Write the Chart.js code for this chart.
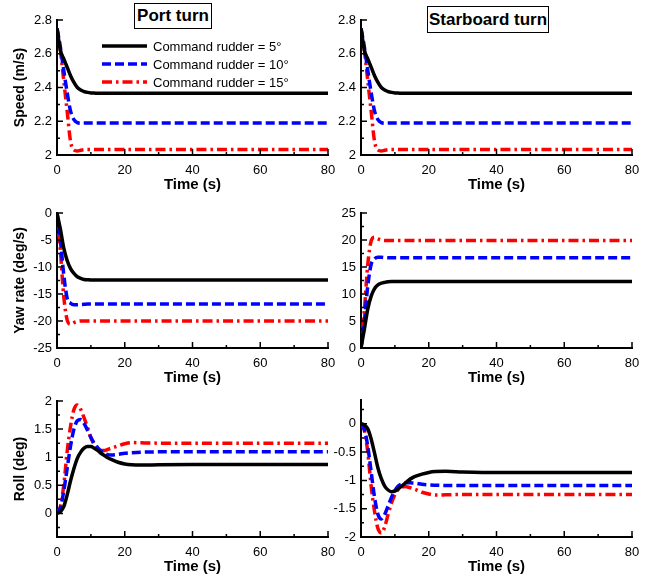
<!DOCTYPE html>
<html>
<head>
<meta charset="utf-8">
<script src="https://cdn.jsdelivr.net/npm/chart.js@4.4.0/dist/chart.umd.min.js"></script>
<style>
  html, body { margin: 0; padding: 0; background: #fff; }
  #wrap { position: relative; width: 653px; height: 578px; overflow: hidden; }
  #wrap canvas { position: absolute; }
  .ttl { position: absolute; border: 1px solid #000; background: #fff; z-index: 5;
         font: bold 17px "Liberation Sans", Arial, sans-serif; text-align: center; box-sizing: border-box; }
</style>
</head>
<body>
<div id="wrap">
  <canvas id="speedPort" width="345" height="195" style="left:0;top:0"></canvas>
  <canvas id="yawPort" width="345" height="190" style="left:0;top:195px"></canvas>
  <canvas id="rollPort" width="345" height="193" style="left:0;top:385px"></canvas>
  <canvas id="speedStbd" width="323" height="195" style="left:330px;top:0"></canvas>
  <canvas id="yawStbd" width="323" height="190" style="left:330px;top:195px"></canvas>
  <canvas id="rollStbd" width="323" height="193" style="left:330px;top:385px"></canvas>
  <div class="ttl" style="left:134px;top:3px;width:78px;height:26px;line-height:24px">Port turn</div>
  <div class="ttl" style="left:427px;top:6px;width:122px;height:27px;line-height:25px">Starboard turn</div>
</div>
<script>
// time samples (s)
var timeS = [0, 1, 2, 3, 4, 5, 6, 7, 8, 9, 10, 11, 12, 13, 14, 15, 16, 18, 20, 22, 25, 30, 40, 50, 60, 70, 80];

var seriesNames = ['Command rudder = 5°', 'Command rudder = 10°', 'Command rudder = 15°'];

// speed (m/s)
var speedPort5  = [2.75, 2.62, 2.57, 2.52, 2.47, 2.43, 2.40, 2.385, 2.376, 2.371, 2.368, 2.367, 2.366, 2.366, 2.366, 2.366, 2.366, 2.366, 2.366, 2.366, 2.366, 2.366, 2.366, 2.366, 2.366, 2.366, 2.366];
var speedPort10 = [2.75, 2.64, 2.50, 2.37, 2.26, 2.21, 2.192, 2.188, 2.189, 2.19, 2.19, 2.19, 2.19, 2.19, 2.19, 2.19, 2.19, 2.19, 2.19, 2.19, 2.19, 2.19, 2.19, 2.19, 2.19, 2.19, 2.19];
var speedPort15 = [2.75, 2.62, 2.44, 2.26, 2.08, 2.03, 2.024, 2.028, 2.031, 2.032, 2.032, 2.032, 2.032, 2.032, 2.032, 2.032, 2.032, 2.032, 2.032, 2.032, 2.032, 2.032, 2.032, 2.032, 2.032, 2.032, 2.032];
var speedStbd5  = [2.75, 2.62, 2.57, 2.52, 2.47, 2.43, 2.40, 2.385, 2.376, 2.371, 2.368, 2.367, 2.366, 2.366, 2.366, 2.366, 2.366, 2.366, 2.366, 2.366, 2.366, 2.366, 2.366, 2.366, 2.366, 2.366, 2.366];
var speedStbd10 = [2.75, 2.64, 2.50, 2.37, 2.26, 2.21, 2.192, 2.188, 2.189, 2.19, 2.19, 2.19, 2.19, 2.19, 2.19, 2.19, 2.19, 2.19, 2.19, 2.19, 2.19, 2.19, 2.19, 2.19, 2.19, 2.19, 2.19];
var speedStbd15 = [2.75, 2.62, 2.44, 2.26, 2.08, 2.03, 2.024, 2.028, 2.031, 2.032, 2.032, 2.032, 2.032, 2.032, 2.032, 2.032, 2.032, 2.032, 2.032, 2.032, 2.032, 2.032, 2.032, 2.032, 2.032, 2.032, 2.032];

// yaw rate (deg/s)
var yawPort5  = [0, -3.0, -6.5, -8.8, -10.3, -11.2, -11.8, -12.1, -12.3, -12.35, -12.4, -12.4, -12.4, -12.4, -12.4, -12.4, -12.4, -12.4, -12.4, -12.4, -12.4, -12.4, -12.4, -12.4, -12.4, -12.4, -12.4];
var yawPort10 = [0, -5.0, -11.5, -15.8, -16.7, -17.0, -17.0, -16.95, -16.9, -16.85, -16.85, -16.85, -16.85, -16.85, -16.85, -16.85, -16.85, -16.85, -16.85, -16.85, -16.85, -16.85, -16.85, -16.85, -16.85, -16.85, -16.85];
var yawPort15 = [0, -7.0, -15.5, -19.8, -20.6, -20.3, -20.1, -20.0, -20.0, -20.0, -20.0, -20.0, -20.0, -20.0, -20.0, -20.0, -20.0, -20.0, -20.0, -20.0, -20.0, -20.0, -20.0, -20.0, -20.0, -20.0, -20.0];
var yawStbd5  = [0, 3.5, 7.2, 9.6, 11.0, 11.7, 12.0, 12.15, 12.25, 12.3, 12.3, 12.3, 12.3, 12.3, 12.3, 12.3, 12.3, 12.3, 12.3, 12.3, 12.3, 12.3, 12.3, 12.3, 12.3, 12.3, 12.3];
var yawStbd10 = [0, 5.0, 11.5, 15.5, 16.5, 16.8, 16.8, 16.75, 16.7, 16.7, 16.7, 16.7, 16.7, 16.7, 16.7, 16.7, 16.7, 16.7, 16.7, 16.7, 16.7, 16.7, 16.7, 16.7, 16.7, 16.7, 16.7];
var yawStbd15 = [0, 7.0, 15.5, 19.8, 20.5, 20.2, 20.0, 19.9, 19.9, 19.9, 19.9, 19.9, 19.9, 19.9, 19.9, 19.9, 19.9, 19.9, 19.9, 19.9, 19.9, 19.9, 19.9, 19.9, 19.9, 19.9, 19.9];

// roll (deg)
var rollPort5  = [0, 0.03, 0.12, 0.33, 0.58, 0.8, 0.98, 1.09, 1.16, 1.19, 1.19, 1.16, 1.12, 1.07, 1.03, 0.99, 0.96, 0.91, 0.88, 0.865, 0.86, 0.865, 0.87, 0.87, 0.87, 0.87, 0.87];
var rollPort10 = [0, 0.1, 0.4, 0.8, 1.2, 1.5, 1.65, 1.67, 1.6, 1.48, 1.35, 1.25, 1.17, 1.11, 1.07, 1.045, 1.04, 1.05, 1.07, 1.08, 1.09, 1.095, 1.095, 1.095, 1.095, 1.095, 1.095];
var rollPort15 = [0, 0.12, 0.5, 1.1, 1.55, 1.85, 1.93, 1.85, 1.7, 1.53, 1.35, 1.22, 1.15, 1.12, 1.12, 1.14, 1.16, 1.2, 1.24, 1.26, 1.255, 1.25, 1.25, 1.25, 1.25, 1.25, 1.25];
var rollStbd5  = [0, -0.02, -0.09, -0.27, -0.52, -0.78, -0.97, -1.1, -1.17, -1.2, -1.19, -1.15, -1.1, -1.05, -1.0, -0.96, -0.93, -0.89, -0.86, -0.845, -0.84, -0.85, -0.86, -0.86, -0.86, -0.86, -0.86];
var rollStbd10 = [0, -0.1, -0.4, -0.85, -1.3, -1.6, -1.68, -1.6, -1.45, -1.3, -1.18, -1.1, -1.06, -1.04, -1.04, -1.045, -1.05, -1.07, -1.08, -1.085, -1.09, -1.09, -1.09, -1.09, -1.09, -1.09, -1.09];
var rollStbd15 = [0, -0.12, -0.5, -1.1, -1.55, -1.85, -1.93, -1.82, -1.6, -1.4, -1.25, -1.16, -1.12, -1.11, -1.12, -1.14, -1.16, -1.21, -1.24, -1.26, -1.255, -1.25, -1.25, -1.25, -1.25, -1.25, -1.25];

// axis ticks
var xTicks = [0, 20, 40, 60, 80];
var xMinor = [10, 30, 50, 70];
var speedTicks = [2, 2.2, 2.4, 2.6, 2.8];
var speedMinor = [2.1, 2.3, 2.5, 2.7];
var yawPortTicks = [-25, -20, -15, -10, -5, 0];
var yawPortMinor = [-22.5, -17.5, -12.5, -7.5, -2.5];
var yawStbdTicks = [0, 5, 10, 15, 20, 25];
var yawStbdMinor = [2.5, 7.5, 12.5, 17.5, 22.5];
var rollPortTicks = [0, 0.5, 1, 1.5, 2];
var rollPortMinor = [-0.25, 0.25, 0.75, 1.25, 1.75];
var rollStbdTicks = [-2, -1.5, -1, -0.5, 0];
var rollStbdMinor = [-1.75, -1.25, -0.75, -0.25, 0.25];

Chart.defaults.font.family = '"Liberation Sans", Arial, sans-serif';
Chart.defaults.color = '#000';

var lineStyles = [
    { color: '#000000', dash: [] },
    { color: '#0000ff', dash: [9, 4] },
    { color: '#ff0000', dash: [10, 4, 2.5, 4] }
];

function makeSet(values, i) {
    return {
        label: seriesNames[i],
        data: timeS.map(function(t, k) { return { x: t, y: values[k] }; }),
        borderColor: lineStyles[i].color,
        borderDash: lineStyles[i].dash,
        borderWidth: 3.5,
        borderCapStyle: 'butt',
        pointRadius: 0,
        cubicInterpolationMode: 'monotone',
        fill: false
    };
}

function plainLabel(value) {
    return String(Math.round(value * 100) / 100);
}

// tick marks pointing into the plot
var innerTicks = {
    id: 'innerTicks',
    afterDraw: function(chart, args, opts) {
        var ctx = chart.ctx, a = chart.chartArea;
        var xs = chart.scales.x, ys = chart.scales.y;
        ctx.save();
        ctx.strokeStyle = '#000';
        ctx.lineWidth = 1.5;
        ctx.beginPath();
        xTicks.forEach(function(v) { var p = xs.getPixelForValue(v); ctx.moveTo(p, a.bottom); ctx.lineTo(p, a.bottom - 6); });
        xMinor.forEach(function(v) { var p = xs.getPixelForValue(v); ctx.moveTo(p, a.bottom); ctx.lineTo(p, a.bottom - 3); });
        opts.major.forEach(function(v) { var p = ys.getPixelForValue(v); ctx.moveTo(a.left, p); ctx.lineTo(a.left + 6, p); });
        opts.minor.forEach(function(v) { var p = ys.getPixelForValue(v); ctx.moveTo(a.left, p); ctx.lineTo(a.left + 3, p); });
        ctx.stroke();
        ctx.restore();
    }
};

// legend drawn inside the first panel
var insideLegend = {
    id: 'insideLegend',
    afterDraw: function(chart, args, opts) {
        if (!opts.show) return;
        var ctx = chart.ctx;
        ctx.save();
        chart.data.datasets.forEach(function(ds, i) {
            var y = opts.y + i * opts.step;
            ctx.strokeStyle = ds.borderColor;
            ctx.lineWidth = ds.borderWidth;
            ctx.setLineDash(ds.borderDash);
            ctx.beginPath();
            ctx.moveTo(opts.x, y);
            ctx.lineTo(opts.x + opts.len, y);
            ctx.stroke();
            ctx.setLineDash([]);
            ctx.fillStyle = '#000';
            ctx.font = '13px "Liberation Sans", Arial, sans-serif';
            ctx.textBaseline = 'middle';
            ctx.fillText(ds.label, opts.x + opts.len + 6, y + 1);
        });
        ctx.restore();
    }
};

function makeChart(id, v5, v10, v15, cfg) {
    return new Chart(document.getElementById(id), {
        type: 'line',
        data: { datasets: [makeSet(v5, 0), makeSet(v10, 1), makeSet(v15, 2)] },
        plugins: [innerTicks, insideLegend],
        options: {
            responsive: false,
            animation: false,
            layout: { padding: cfg.pad },
            plugins: {
                legend: { display: false },
                tooltip: { enabled: false },
                innerTicks: { major: cfg.ticks, minor: cfg.minor },
                insideLegend: { show: !!cfg.legend, x: 102, y: 46, step: 18, len: 45 }
            },
            scales: {
                x: {
                    type: 'linear', min: 0, max: 80,
                    afterBuildTicks: function(s) { s.ticks = xTicks.map(function(v) { return { value: v }; }); },
                    afterFit: function(s) { s.height = cfg.xh; s.paddingLeft = 0; s.paddingRight = 0; },
                    grid: { display: true, drawOnChartArea: false, drawTicks: false },
                    border: { display: true, color: '#000', width: 2 },
                    ticks: { color: '#000', font: { size: 13 }, padding: 8, maxRotation: 0, autoSkip: false, callback: plainLabel },
                    title: { display: true, text: 'Time (s)', color: '#000',
                             font: { size: 15, weight: 'bold', lineHeight: 1 }, padding: { top: 0, bottom: cfg.tpad } }
                },
                y: {
                    type: 'linear', min: cfg.min, max: cfg.max,
                    afterBuildTicks: function(s) { s.ticks = cfg.ticks.map(function(v) { return { value: v }; }); },
                    afterFit: function(s) { s.width = cfg.yw; s.paddingTop = 0; s.paddingBottom = 0; },
                    grid: { display: true, drawOnChartArea: false, drawTicks: false },
                    border: { display: true, color: '#000', width: 2 },
                    ticks: { color: '#000', font: { size: 13 }, padding: 5, autoSkip: false, callback: plainLabel },
                    title: { display: !!cfg.ytitle, text: cfg.ytitle || '', color: '#000',
                             font: { size: 14, weight: 'bold', lineHeight: 1 }, padding: { top: 13, bottom: 0 } }
                }
            }
        }
    });
}

makeChart('speedPort', speedPort5, speedPort10, speedPort15,
    { min: 2, max: 2.8, ticks: speedTicks, minor: speedMinor, ytitle: 'Speed (m/s)', yw: 57, xh: 40, tpad: 2.5,
      pad: { top: 20, right: 17, bottom: 0, left: 0 }, legend: true });
makeChart('yawPort', yawPort5, yawPort10, yawPort15,
    { min: -25, max: 0, ticks: yawPortTicks, minor: yawPortMinor, ytitle: 'Yaw rate (deg/s)', yw: 57, xh: 37, tpad: 0,
      pad: { top: 18, right: 17, bottom: 0, left: 0 } });
makeChart('rollPort', rollPort5, rollPort10, rollPort15,
    { min: -0.42, max: 2, ticks: rollPortTicks, minor: rollPortMinor, ytitle: 'Roll (deg)', yw: 57, xh: 41, tpad: 3.5,
      pad: { top: 16, right: 17, bottom: 0, left: 0 } });
makeChart('speedStbd', speedStbd5, speedStbd10, speedStbd15,
    { min: 2, max: 2.8, ticks: speedTicks, minor: speedMinor, yw: 31, xh: 40, tpad: 2.5,
      pad: { top: 20, right: 21, bottom: 0, left: 0 } });
makeChart('yawStbd', yawStbd5, yawStbd10, yawStbd15,
    { min: 0, max: 25, ticks: yawStbdTicks, minor: yawStbdMinor, yw: 31, xh: 37, tpad: 0,
      pad: { top: 18, right: 21, bottom: 0, left: 0 } });
makeChart('rollStbd', rollStbd5, rollStbd10, rollStbd15,
    { min: -2, max: 0.42, ticks: rollStbdTicks, minor: rollStbdMinor, yw: 31, xh: 41, tpad: 3.5,
      pad: { top: 15, right: 21, bottom: 0, left: 0 } });
</script>
</body>
</html>
